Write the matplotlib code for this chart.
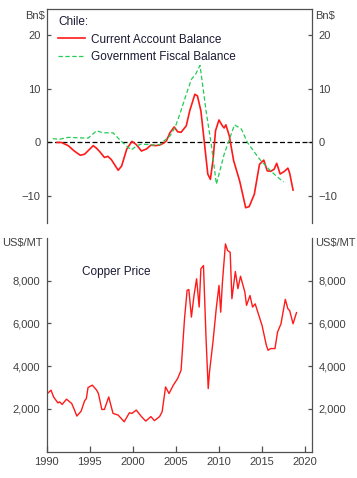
import matplotlib
matplotlib.use("Agg")
import matplotlib.pyplot as plt
from matplotlib.ticker import FuncFormatter

plt.rcParams['font.family'] = ['Liberation Sans', 'DejaVu Sans']

# current account balance, Bn$
ca_year = [1991.2, 1991.7, 1992.5, 1993.2, 1993.9, 1994.4, 1994.9, 1995.4, 1995.8,
           1996.2, 1996.7, 1997.1, 1997.5, 1997.9, 1998.3, 1998.7, 1999.0, 1999.3,
           1999.9, 2000.4, 2001.0, 2001.6, 2002.1, 2002.6, 2003.1, 2003.6, 2003.9,
           2004.3, 2004.8, 2005.2, 2005.6, 2006.2, 2006.6, 2007.2, 2007.5, 2007.9,
           2008.3, 2008.7, 2009.0, 2009.3, 2009.6, 2010.0, 2010.4, 2010.6, 2010.8,
           2011.2, 2011.7, 2012.4, 2013.1, 2013.5, 2014.1, 2014.7, 2015.2, 2015.6,
           2016.0, 2016.4, 2016.7, 2017.1, 2017.6, 2018.0, 2018.2, 2018.6]
ca_value = [0.0, 0.0, -0.6, -1.6, -2.4, -2.2, -1.4, -0.6, -1.1,
            -1.8, -2.8, -2.6, -3.2, -4.2, -5.2, -4.4, -2.8, -1.2,
            0.2, -0.4, -1.6, -1.2, -0.5, -0.6, -0.5, -0.1, 0.3,
            1.8, 2.9, 2.0, 1.9, 3.1, 5.9, 9.0, 8.7, 5.9,
            0.0, -5.9, -6.9, -3.4, 2.2, 4.2, 3.1, 2.7, 3.3,
            1.2, -3.4, -7.2, -12.2, -12.0, -9.7, -4.1, -3.3, -5.3,
            -5.4, -5.0, -3.9, -5.9, -5.4, -4.8, -5.7, -8.9]

# government fiscal balance, Bn$
fb_year = [1990.7, 1991.5, 1992.5, 1994.8, 1995.8, 1996.5, 1997.7, 1998.6, 1999.8,
           2000.5, 2001.0, 2002.5, 2003.1, 2004.3, 2004.9, 2005.5, 2006.2, 2006.8,
           2007.3, 2007.8, 2008.5, 2009.1, 2009.7, 2010.6, 2011.8, 2012.6, 2013.3,
           2014.7, 2015.8, 2016.6, 2017.5]
fb_value = [0.7, 0.6, 0.95, 0.8, 2.2, 1.8, 1.8, 0.3, -1.4,
            -0.6, -0.3, -0.5, -0.4, 1.2, 2.8, 5.5, 9.0, 11.8,
            12.8, 14.4, 5.9, -0.3, -7.8, -2.2, 3.3, 2.5, 0.0,
            -3.1, -5.0, -6.2, -7.4]

# copper price, US$/MT
cu_year = [1990.0, 1990.5, 1990.8, 1991.3, 1991.5, 1991.8, 1992.3, 1992.9, 1993.2,
           1993.5, 1994.0, 1994.4, 1994.6, 1994.8, 1995.3, 1995.8, 1996.0, 1996.4,
           1996.7, 1997.2, 1997.7, 1998.3, 1999.0, 1999.6, 1999.9, 2000.4, 2001.0,
           2001.5, 2002.1, 2002.5, 2003.1, 2003.4, 2003.8, 2004.2, 2004.7, 2005.2,
           2005.6, 2006.0, 2006.3, 2006.5, 2006.8, 2007.1, 2007.4, 2007.7, 2007.9,
           2008.2, 2008.5, 2008.75, 2008.9, 2009.3, 2009.7, 2010.0, 2010.2, 2010.4,
           2010.75, 2011.0, 2011.3, 2011.5, 2011.9, 2012.2, 2012.5, 2013.0, 2013.2,
           2013.6, 2013.9, 2014.2, 2015.0, 2015.5, 2015.7, 2016.0, 2016.5, 2016.8,
           2017.2, 2017.7, 2018.0, 2018.2, 2018.6, 2019.0]
cu_value = [2690, 2875, 2560, 2280, 2330, 2210, 2455, 2255, 1975,
            1665, 1895, 2380, 2480, 3000, 3110, 2875, 2720, 1975,
            1975, 2560, 1790, 1710, 1400, 1820, 1790, 1945, 1640,
            1430, 1640, 1450, 1640, 1865, 3030, 2720, 3110, 3420,
            3810, 6220, 7540, 7580, 6290, 7300, 8080, 6760, 8550,
            8700, 5280, 2950, 3730, 5130, 6760, 7770, 6520, 7920,
            9710, 9400, 9320, 7150, 8420, 7620, 8200, 7460, 6840,
            7300, 6760, 6910, 5900, 4970, 4740, 4820, 4820, 5590,
            5980, 7120, 6680, 6600, 5980, 6500]

top_ticks = [-10, 0, 10, 20]
cu_ticks = [2000, 4000, 6000, 8000]
year_ticks = [1990, 1995, 2000, 2005, 2010, 2015, 2020]

grey = '#404040'
spine_col = '#505050'

fig = plt.figure(figsize=(3.57, 4.78), dpi=100)
ax1 = fig.add_axes([0.1308, 0.5341, 0.7432, 0.4477])
ax2 = fig.add_axes([0.1308, 0.0550, 0.7432, 0.4477])

# top panel
ax1.axhline(0, color='black', lw=0.9, ls=(0, (4, 2)))
ax1.plot(ca_year, ca_value, color='#ff1a1a', lw=1.2, label='Current Account Balance')
ax1.plot(fb_year, fb_value, color='#22cc55', lw=0.9, ls=(0, (3.5, 2)),
         label='Government Fiscal Balance')
ax1.set_xlim(1990, 2020.8)
ax1.set_ylim(-15, 25)
ax1.set_yticks(top_ticks)
ax1.set_xticks([])
ax1.spines['bottom'].set_visible(False)
leg = ax1.legend(loc='upper left', bbox_to_anchor=(0.043, 0.965), frameon=False,
                 title='Chile:', fontsize=8.5, title_fontsize=8.5, alignment='left',
                 borderpad=0, borderaxespad=0, handlelength=2.3, handletextpad=0.45,
                 labelspacing=0.45)
for t in leg.get_texts():
    t.set_color('#1a1a33')
leg.get_title().set_color('#1a1a33')

# bottom panel
ax2.plot(cu_year, cu_value, color='#ff1a1a', lw=1.0)
ax2.set_xlim(1990, 2020.8)
ax2.set_ylim(0, 10000)
ax2.set_yticks(cu_ticks)
ax2.yaxis.set_major_formatter(FuncFormatter(lambda v, p: f'{v:,.0f}'))
ax2.set_xticks(year_ticks)
ax2.spines['top'].set_visible(False)
ax2.text(0.133, 0.84, 'Copper Price', transform=ax2.transAxes, fontsize=8.5,
         color='#1a1a33', va='center', ha='left')

for ax in (ax1, ax2):
    for s in ax.spines.values():
        s.set_color(spine_col)
        s.set_linewidth(0.9)
    ax.tick_params(axis='y', direction='in', length=3, width=0.9, color=spine_col,
                   left=True, right=True, labelleft=True, labelright=True,
                   labelsize=8, labelcolor=grey, pad=4.5)
ax2.tick_params(axis='x', direction='in', length=4, width=0.9, color=spine_col,
                labelsize=8, labelcolor=grey, pad=4)

# unit labels
fig.text(0.126, 0.9665, 'Bn$', ha='right', va='center', fontsize=8, color=grey)
fig.text(0.882, 0.9665, 'Bn$', ha='left', va='center', fontsize=8, color=grey)
fig.text(0.1204, 0.491, 'US$/MT', ha='right', va='center', fontsize=8, color=grey)
fig.text(0.882, 0.491, 'US$/MT', ha='left', va='center', fontsize=8, color=grey)

fig.savefig('out.png', dpi=100)
